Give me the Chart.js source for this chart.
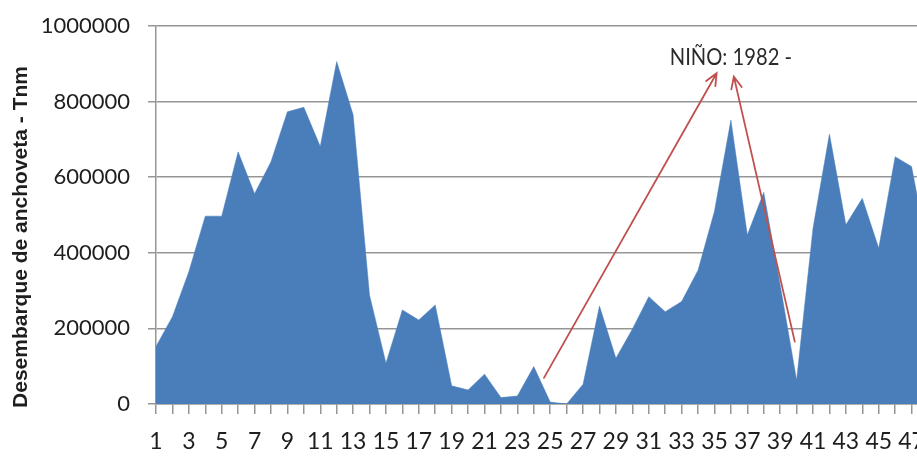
<!DOCTYPE html>
<html>
<head>
<meta charset="utf-8">
<script src="https://cdn.jsdelivr.net/npm/chart.js@4.4.1/dist/chart.umd.min.js"></script>
<style>
  html, body { margin: 0; padding: 0; overflow: hidden; background: #fff; }
  #wrap { position: absolute; left: 0; top: 0; width: 945px; height: 456px; }
</style>
</head>
<body>
<div id="wrap"><canvas id="landingsChart"></canvas></div>
<script>
// Periods 1..48 (the last one runs past the right edge)
const periods = []
for (let i = 1; i <= 48; i++) periods.push(String(i))

// Anchovy landings per period, tonnes
const landings = [
  152000, 231000, 350000, 497000, 497000, 667000, 556000, 641000, 773000, 785000,
  681000, 906000, 765000, 288000, 108000, 249000, 222000, 262000, 48000, 37000,
  79000, 17000, 21000, 99000, 5000, 0, 52000, 259000, 121000, 198000,
  284000, 244000, 271000, 354000, 510000, 751000, 447000, 560000, 315000, 63000,
  465000, 714000, 474000, 544000, 412000, 654000, 628000, 400000,
]

const yTicks = [0, 200000, 400000, 600000, 800000, 1000000]

// El Niño note: text anchor and two arrows, in (index, value) units
const ninoLabel = { text: "NIÑO: 1982 -", x: 35.0, y: 897000 }
const ninoArrows = [
  { from: [23.62, 69000], to: [34.13, 875000] },
  { from: [38.89, 165000], to: [35.18, 866000] },
]

const axisGray = "rgba(150,150,150,1)"
const tickFamily = "Lato, 'Noto Sans', sans-serif"

const annotationPlugin = {
  id: "ninoNote",
  afterDatasetsDraw(chart) {
    const { ctx, scales } = chart
    const xs = scales.x, ys = scales.y
    ctx.save()
    ctx.strokeStyle = "#c0504d"
    ctx.lineWidth = 1.8
    ctx.lineCap = "round"
    ninoArrows.forEach((a) => {
      const x1 = xs.getPixelForValue(a.from[0]), y1 = ys.getPixelForValue(a.from[1])
      const x2 = xs.getPixelForValue(a.to[0]), y2 = ys.getPixelForValue(a.to[1])
      const ang = Math.atan2(y2 - y1, x2 - x1)
      const head = 13, spread = 0.42
      ctx.beginPath()
      ctx.moveTo(x1, y1)
      ctx.lineTo(x2, y2)
      ctx.moveTo(x2 - head * Math.cos(ang - spread), y2 - head * Math.sin(ang - spread))
      ctx.lineTo(x2, y2)
      ctx.lineTo(x2 - head * Math.cos(ang + spread), y2 - head * Math.sin(ang + spread))
      ctx.stroke()
    })
    // narrow the label a little so it reads like a condensed face
    ctx.translate(xs.getPixelForValue(ninoLabel.x), ys.getPixelForValue(ninoLabel.y))
    ctx.scale(0.84, 1)
    ctx.fillStyle = "#2a2a2a"
    ctx.font = "24px " + tickFamily
    ctx.textAlign = "center"
    ctx.textBaseline = "alphabetic"
    ctx.fillText(ninoLabel.text, 0, 0)
    ctx.restore()
  },
}

// Rotated y-axis title sitting left of the tick labels
const yTitlePlugin = {
  id: "yTitle",
  afterDraw(chart) {
    const { ctx } = chart
    ctx.save()
    ctx.translate(21, 237)
    ctx.rotate(-Math.PI / 2)
    ctx.fillStyle = "#1e1e1e"
    ctx.font = "bold 21px 'Liberation Sans', Arial, sans-serif"
    ctx.textAlign = "center"
    ctx.textBaseline = "middle"
    ctx.fillText("Desembarque de anchoveta - Tnm", 0, 0)
    ctx.restore()
  },
}

const whiteBg = {
  id: "whiteBg",
  beforeDraw(chart) {
    const { ctx, width, height } = chart
    ctx.save()
    ctx.fillStyle = "#fff"
    ctx.fillRect(0, 0, width, height)
    ctx.restore()
  },
}

new Chart(document.getElementById("landingsChart"), {
  type: "line",
  data: {
    labels: periods,
    datasets: [
      {
        data: landings,
        fill: "origin",
        backgroundColor: "#4a7ebb",
        borderColor: "#4a7ebb",
        borderWidth: 0.5,
        pointRadius: 0,
        tension: 0,
      },
    ],
  },
  options: {
    responsive: true,
    maintainAspectRatio: false,
    animation: false,
    layout: { padding: { top: 26, right: 17, left: 0, bottom: 0 } },
    plugins: { legend: { display: false }, tooltip: { enabled: false } },
    scales: {
      x: {
        offset: false,
        grid: { drawOnChartArea: false, drawTicks: true, tickLength: 10, color: axisGray, lineWidth: 1.5 },
        border: { display: true, color: axisGray, width: 1.5 },
        ticks: {
          autoSkip: false,
          maxRotation: 0,
          padding: 14,
          color: "#1e1e1e",
          font: { family: tickFamily, size: 23 },
          callback: (v, i) => (i % 2 === 0 && i < 47 ? periods[i] : ""),
        },
        afterFit: (scale) => { scale.height = 52 },
      },
      y: {
        min: 0,
        max: 1000000,
        afterBuildTicks: (scale) => { scale.ticks = yTicks.map((v) => ({ value: v })) },
        grid: { color: axisGray, lineWidth: 1.5, drawTicks: true, tickLength: 8 },
        border: { display: true, color: axisGray, width: 1.5 },
        ticks: {
          padding: 18,
          color: "#1e1e1e",
          font: { family: tickFamily, size: 22, lineHeight: 0.7 },
          callback: (v) => String(v),
        },
        afterFit: (scale) => { scale.width = 156 },
      },
    },
  },
  plugins: [whiteBg, annotationPlugin, yTitlePlugin],
})
</script>
</body>
</html>
